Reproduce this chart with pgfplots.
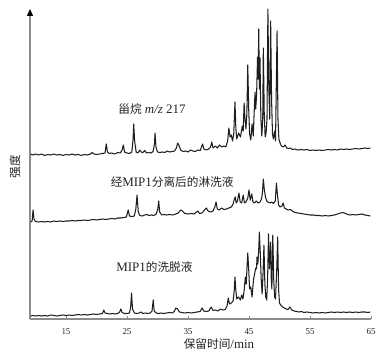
\documentclass[border=0pt]{standalone}
\usepackage{fontspec}
\setmainfont{Liberation Serif}
\newfontfamily\cjk[Scale=0.9]{Noto Sans CJK SC}
\usepackage{pgfplots}
\pgfplotsset{compat=1.18}
\usetikzlibrary{arrows.meta}
\definecolor{trace}{RGB}{30,30,30}
\definecolor{axgray}{RGB}{140,140,140}
\definecolor{txt}{RGB}{35,35,40}
\begin{document}
\begin{tikzpicture}
\begin{axis}[
  name=ax, scale only axis, width=341bp, height=310bp,
  xmin=9.1, xmax=65, ymin=0, ymax=310,
  axis lines=left, clip=false,
  xtick={15,25,35,45,55,65}, ytick=\empty,
  tick align=inside, major tick length=2.5bp,
  axis line style={axgray, line width=1.2bp},
  x axis line style={-},
  y axis line style={-{Triangle[length=7bp,width=6bp,color=black]}},
  tick style={axgray, line width=0.7bp},
  xticklabel style={font=\fontsize{9}{10}\selectfont, text=txt, anchor=base, yshift=-15.5bp},
  /pgf/number format/assume math mode=true,
  xlabel={{\cjk 保留时间}/min},
  xlabel style={at={(axis description cs:0,0)}, anchor=center, xshift=189bp, yshift=-25bp, font=\fontsize{13}{14}\selectfont, text=txt},
]
% top trace
\addplot[trace, line width=1.05bp, line join=round] coordinates {
(9.2,165)(9.6,164)(10.0,165)(10.5,164)(11,165)(11.5,163.5)(12,164.5)(12.5,164)(13,165)(13.5,164)(14,164.5)(14.5,163.5)(15,164.5)(15.5,164)(16,165)(16.5,164)(17,164.5)(17.5,163.5)(18,164.5)(18.5,164)(19,165)(19.3,166.5)(19.6,165)(20,164.5)(20.5,165)(21,165.5)(21.4,166)(21.6,175)(21.8,167)(22.1,165.5)(22.5,166)(23,165)(23.5,166.5)(23.9,166)(24.2,169)(24.4,174)(24.6,167)(25,166)(25.4,165.5)(25.8,167)(26.0,180)(26.1,195)(26.25,178)(26.5,167)(26.8,166)(27.1,169)(27.3,167)(27.6,166.5)(27.9,168.5)(28.2,166)(28.6,166.5)(29,166)(29.3,168)(29.5,175)(29.6,186)(29.75,172)(30,167)(30.4,166.5)(30.8,167)(31.2,166.5)(31.6,168)(32,167)(32.4,167.5)(32.8,168)(33.1,171)(33.3,176)(33.5,174)(33.8,169)(34.2,167.5)(34.6,168)(35,167)(35.4,169)(35.8,168)(36.2,167.5)(36.6,169)(37,168.5)(37.2,172)(37.4,175)(37.6,170)(38,169)(38.4,170)(38.7,172)(38.9,177)(39.1,171)(39.5,173)(39.8,171)(40.2,174)(40.5,172)(40.9,173)(41.2,172)(41.5,178)(41.7,191)(41.9,182)(42.1,184)(42.3,178)(42.5,185)(42.7,217)(42.85,190)(43.0,180)(43.3,186)(43.6,182)(43.9,193)(44.05,188)(44.2,216)(44.35,200)(44.5,190)(44.65,205)(44.8,254)(44.95,210)(45.1,185)(45.3,179)(45.5,195)(45.7,183)(45.9,215)(46.0,227)(46.1,210)(46.25,225)(46.4,262)(46.5,240)(46.6,290)(46.7,230)(46.8,261)(46.95,200)(47.1,183)(47.25,200)(47.35,271)(47.5,205)(47.65,182)(47.8,186)(47.95,200)(48.1,310)(48.25,230)(48.4,200)(48.55,298)(48.7,220)(48.85,185)(49.0,180)(49.2,188)(49.35,178)(49.6,288)(49.75,200)(49.9,180)(50.1,176)(50.3,173)(50.6,172)(50.9,174)(51.2,171)(51.5,170.5)(51.8,171)(52.1,169.5)(52.5,170)(53,169)(53.5,169.5)(54,169)(54.5,169.5)(55,168.5)(55.5,169)(56,168.5)(56.5,169)(57,168.5)(57.5,169)(58,169.5)(58.5,169)(59,169.5)(59.5,169)(60,170)(60.5,169.5)(61,170)(61.5,169.5)(62,170)(62.5,170.5)(63,170)(63.5,170.5)(64,171)(64.5,170.5)(64.9,171)
};
% middle trace
\addplot[trace, line width=1.05bp, line join=round] coordinates {
(9.2,97)(9.45,98)(9.6,109)(9.75,100)(10,97.5)(10.5,97)(11,97.5)(11.5,97)(12,97.5)(12.5,97)(13,98)(13.5,97.5)(14,98)(14.5,97.5)(15,98)(15.5,98)(16,98.5)(16.5,98)(17,98.5)(17.5,98.5)(18,99)(18.5,98.5)(19,99)(19.5,99.5)(20,99)(20.5,99.5)(21,100)(21.5,99.5)(22,100)(22.5,100.5)(23,100)(23.5,101)(24,101)(24.5,101.5)(24.9,102)(25.2,109)(25.4,103)(25.8,102.5)(26.2,103)(26.45,110)(26.65,124)(26.85,107)(27.1,103.5)(27.5,103)(27.9,104)(28.3,104.5)(28.6,103.5)(29,104)(29.4,103.5)(29.8,105)(30.05,110)(30.2,118)(30.35,107)(30.7,104)(31.1,104.5)(31.5,104)(32,104.5)(32.5,104)(33,105)(33.4,106)(33.8,109)(34.1,108)(34.5,105.5)(35,105)(35.5,105.5)(36,105)(36.3,106.5)(36.6,108)(36.9,105.5)(37.3,106)(37.7,109)(38,111)(38.3,108)(38.7,107)(39.1,108)(39.4,112)(39.6,117)(39.8,110)(40.1,109)(40.5,111)(40.9,109.5)(41.3,110)(41.7,111)(42.1,112)(42.4,115)(42.6,120)(42.75,122)(42.9,116)(43.1,118)(43.35,126)(43.55,117)(43.8,116)(44.05,124)(44.25,116)(44.5,117)(44.8,121)(45.0,129)(45.2,119)(45.45,125)(45.65,117)(45.9,116)(46.2,118)(46.5,116)(46.8,117)(47.05,120)(47.2,126)(47.35,140)(47.5,130)(47.7,122)(47.9,118)(48.1,117)(48.4,116)(48.7,117)(49.0,115.5)(49.3,118)(49.5,136)(49.65,125)(49.85,114)(50.1,112)(50.4,113)(50.6,116)(50.8,111)(51.1,110)(51.4,109)(51.8,109.5)(52.2,107.5)(52.6,106.5)(53,106)(53.5,105.5)(54,105)(54.5,104.5)(55,104)(55.5,104)(56,103.5)(56.5,103.5)(57,103)(57.5,103.5)(58,103)(58.5,103.5)(59,104)(59.5,105)(60,106)(60.4,106.5)(60.8,105.5)(61.2,104.5)(61.6,104)(62,104.5)(62.5,104)(63,104.5)(63.5,105)(64,104)(64.5,103.5)(64.9,103)
};
% bottom trace
\addplot[trace, line width=1.05bp, line join=round] coordinates {
(9.2,3)(9.6,3.5)(10,3)(10.5,3.5)(11,3)(11.5,3.5)(12,3)(12.5,4)(13,3.5)(13.5,3)(14,3.5)(14.5,4)(15,3.5)(15.5,4)(16,3.5)(16.5,4)(17,4.5)(17.5,4)(18,4.5)(18.5,4)(19,4.5)(19.5,5)(20,4.5)(20.5,5)(21,5.5)(21.2,9)(21.4,6)(21.8,5.5)(22.2,5)(22.6,5.5)(23,5)(23.5,5.5)(23.8,7)(24,10)(24.2,6.5)(24.6,5.5)(25,5.5)(25.4,6)(25.6,12)(25.75,26)(25.9,10)(26.2,6)(26.6,5.5)(27,6)(27.3,7)(27.6,5.5)(28,6)(28.4,5.5)(28.8,6)(29.1,8)(29.3,19)(29.45,8)(29.8,6)(30.2,5.5)(30.6,6)(31,5.5)(31.5,6)(32,6.5)(32.5,6)(32.8,8)(33,11)(33.3,10)(33.6,7)(34,6.5)(34.5,6)(35,6.5)(35.5,6)(36,6.5)(36.5,7)(37,7.5)(37.3,11)(37.6,8)(38,7.5)(38.4,8)(38.8,12)(39.1,8.5)(39.5,9)(39.9,8)(40.3,10)(40.7,9)(41.1,9.5)(41.4,13)(41.6,21)(41.8,15)(42.1,16)(42.4,18)(42.6,30)(42.7,42)(42.85,28)(43.0,20)(43.3,22)(43.6,19)(43.8,24)(44.0,20)(44.2,28)(44.4,42)(44.55,35)(44.7,55)(44.8,66)(44.95,50)(45.1,30)(45.3,32)(45.5,22)(45.75,40)(45.95,46)(46.1,51)(46.25,50)(46.3,62)(46.45,55)(46.6,70)(46.7,87)(46.85,66)(47.0,40)(47.15,25)(47.3,45)(47.45,74)(47.6,35)(47.75,22)(47.9,19)(48.05,40)(48.2,85)(48.35,50)(48.55,77)(48.65,40)(48.75,30)(48.9,84)(49.05,40)(49.2,22)(49.35,20)(49.55,50)(49.7,82)(49.85,30)(50.0,16)(50.2,14)(50.5,12)(50.8,11)(51.1,10)(51.4,9.5)(51.7,12)(52,9)(52.4,8)(52.8,7.5)(53.2,7)(53.6,7.5)(54,6.5)(54.5,7)(55,6.5)(55.5,6)(56,6.5)(56.5,6)(57,6.5)(57.5,6)(58,6.5)(58.5,7)(59,6.5)(59.5,7)(60,6.5)(60.5,7)(61,6.5)(61.5,7)(62,6.5)(62.5,7)(63,6.5)(63.5,7)(64,7)(64.5,6.5)(64.9,7)
};
\node[text=txt, font=\fontsize{13}{14}\selectfont] at (axis cs:29.1,210) {{\cjk 甾烷} \textit{m/z} 217};
\node[text=txt, font=\fontsize{13}{14}\selectfont] at (axis cs:32.4,137) {{\cjk 经}MIP1{\cjk 分离后的淋洗液}};
\node[text=txt, font=\fontsize{13}{14}\selectfont] at (axis cs:29.5,52) {MIP1{\cjk 的洗脱液}};
\end{axis}
\node[rotate=90, text=txt, font=\fontsize{13}{14}\selectfont] at ([xshift=-15bp,yshift=152bp]ax.south west) {\cjk 强度};
\path ([xshift=-30bp,yshift=-40bp]ax.south west) rectangle ([xshift=361bp,yshift=319bp]ax.south west);
\end{tikzpicture}
\end{document}
